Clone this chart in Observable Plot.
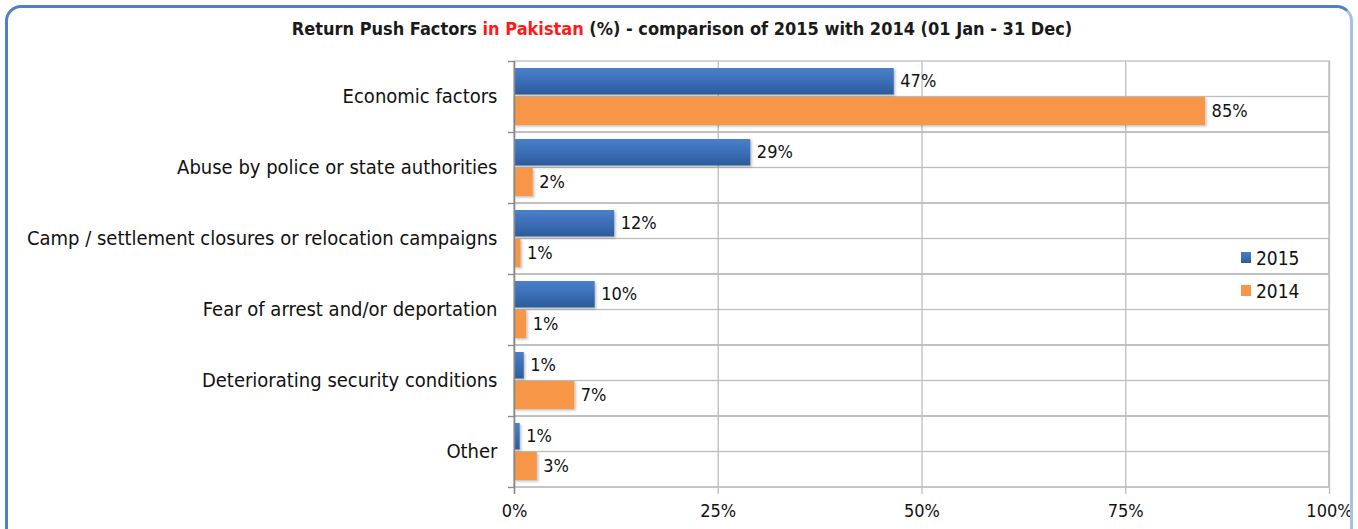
<!DOCTYPE html>
<html>
<head>
<meta charset="utf-8">
<script src="https://cdn.jsdelivr.net/npm/d3@7"></script>
<script src="https://cdn.jsdelivr.net/npm/@observablehq/plot@0.6"></script>
<style>
  html, body { margin: 0; padding: 0; background: #fff; }
  body { position: relative; width: 1358px; height: 529px; overflow: hidden;
         font-family: "DejaVu Sans Condensed", "DejaVu Sans", sans-serif; font-stretch: condensed; }
  #frame { position: absolute; left: 5px; top: 5px; width: 1348px; height: 540px; z-index: 5;
           border: 3px solid #4f80c6; border-right-color: #a7c0e4; border-radius: 16px; box-sizing: border-box;
           background: transparent; pointer-events: none; }
  #title { position: absolute; left: 0; width: 1364px; top: 18px; text-align: center;
           font-weight: bold; font-size: 18px; color: #1a1a1a; white-space: nowrap; }
  #title .red { color: #ff1a1a; }
  #chart { position: absolute; left: 0; top: 45px; }
  #legend { position: absolute; left: 1241px; top: 241px; font-size: 19px; color: #111; }
  #legend .item { display: flex; align-items: center; height: 33px; }
  #legend .sw { width: 10px; height: 11px; margin-right: 5px; }
</style>
</head>
<body>
<div id="frame"></div>
<div id="title">Return Push Factors <span class="red">in Pakistan</span> (%) - comparison of 2015 with 2014 (01 Jan - 31 Dec)</div>
<div id="chart"></div>
<div id="legend"></div>
<script>
const categories = [
  "Economic factors",
  "Abuse by police or state authorities",
  "Camp / settlement closures or relocation campaigns",
  "Fear of arrest and/or deportation",
  "Deteriorating security conditions",
  "Other"
];
const values2015 = [46.6, 29.0, 12.3, 9.9, 1.2, 0.7];
const values2014 = [84.8, 2.3, 0.8, 1.5, 7.4, 2.8];
const labels2015 = ["47%", "29%", "12%", "10%", "1%", "1%"];
const labels2014 = ["85%", "2%", "1%", "1%", "7%", "3%"];
const xTicks = [0, 25, 50, 75, 100];
const seriesNames = ["2015", "2014"];
const seriesColors = ["#3a6fb8", "#f79646"];

const rows2015 = categories.map((c, i) => ({category: c, value: values2015[i], label: labels2015[i]}));
const rows2014 = categories.map((c, i) => ({category: c, value: values2014[i], label: labels2014[i]}));

const W = 1358, H = 484;
const mTop = 16, mBottom = 42, mLeft = 514, mRight = 29;
const band = (H - mTop - mBottom) / categories.length;
const grid = "#bdbdbd";
const font = "DejaVu Sans Condensed, DejaVu Sans, sans-serif";

const chart = Plot.plot({
  width: W, height: H,
  marginTop: mTop, marginBottom: mBottom, marginLeft: mLeft, marginRight: mRight,
  style: {fontFamily: font, background: "transparent", color: "#111", overflow: "visible"},
  x: {domain: [0, 100], ticks: xTicks, tickFormat: d => d + "%"},
  y: {domain: categories, padding: 0},
  marks: [
    // horizontal gridlines: band boundaries and mid-band lines
    Plot.barX(categories, {y: d => d, x1: 0, x2: 100, fill: "none", stroke: grid, strokeWidth: 1.3}),
    Plot.barX(categories, {y: d => d, x1: 0, x2: 100, fill: "none", stroke: grid, strokeWidth: 1.3, insetTop: band / 2}),
    // vertical gridlines with small ticks below
    Plot.ruleX(xTicks, {stroke: grid, strokeWidth: 1.3, insetBottom: -7}),
    // bars
    Plot.barX(rows2015, {y: "category", x: "value", fill: "url(#blueGrad)", insetTop: 7, insetBottom: band - 33.5}),
    Plot.barX(rows2014, {y: "category", x: "value", fill: seriesColors[1], insetTop: 36, insetBottom: 7}),
    // left axis line and ticks
    Plot.ruleX([0], {stroke: "#888", strokeWidth: 1.5, insetBottom: -7}),
    Plot.ruleY(categories, {y: d => d, x1: 0, x2: 0, insetLeft: -6, dy: -band / 2, stroke: "#888", strokeWidth: 1.3}),
    Plot.ruleY([categories[categories.length - 1]], {y: d => d, x1: 0, x2: 0, insetLeft: -6, dy: band / 2, stroke: "#888", strokeWidth: 1.3}),
    // value labels
    Plot.text(rows2015, {y: "category", x: "value", text: "label", textAnchor: "start", dx: 6, dy: 20 - band / 2, fontSize: 18, fill: "#111"}),
    Plot.text(rows2014, {y: "category", x: "value", text: "label", textAnchor: "start", dx: 6, dy: 50 - band / 2, fontSize: 18, fill: "#111"}),
    // axes
    Plot.axisX(xTicks, {tickSize: 0, tickPadding: 17, fontSize: 18, label: null, tickFormat: d => d + "%", fill: "#111"}),
    Plot.axisY({tickSize: 0, tickPadding: 17, fontSize: 20, label: null, fill: "#111"})
  ]
});

// gradient and shadow definitions for bars
const ns = "http://www.w3.org/2000/svg";
const defs = document.createElementNS(ns, "defs");
defs.innerHTML = `
  <linearGradient id="blueGrad" x1="0" y1="0" x2="0" y2="1">
    <stop offset="0" stop-color="#4a80c8"/>
    <stop offset="0.5" stop-color="#3a6fb8"/>
    <stop offset="1" stop-color="#2c5b98"/>
  </linearGradient>
  <filter id="shadow" x="-10%" y="-20%" width="130%" height="160%">
    <feDropShadow dx="1.5" dy="1.5" stdDeviation="1" flood-color="#000" flood-opacity="0.25"/>
  </filter>`;
chart.insertBefore(defs, chart.firstChild);
chart.querySelectorAll('g[fill="url(#blueGrad)"], g[fill="' + seriesColors[1] + '"]').forEach(g => {
  if (g.querySelector("rect")) g.setAttribute("filter", "url(#shadow)");
});
document.getElementById("chart").appendChild(chart);

const legend = document.getElementById("legend");
seriesNames.forEach((s, i) => {
  const item = document.createElement("div");
  item.className = "item";
  item.innerHTML = `<div class="sw" style="background:${i === 0 ? "linear-gradient(#4a80c8,#2c5b98)" : seriesColors[i]}"></div><span>${s}</span>`;
  legend.appendChild(item);
});
</script>
</body>
</html>
